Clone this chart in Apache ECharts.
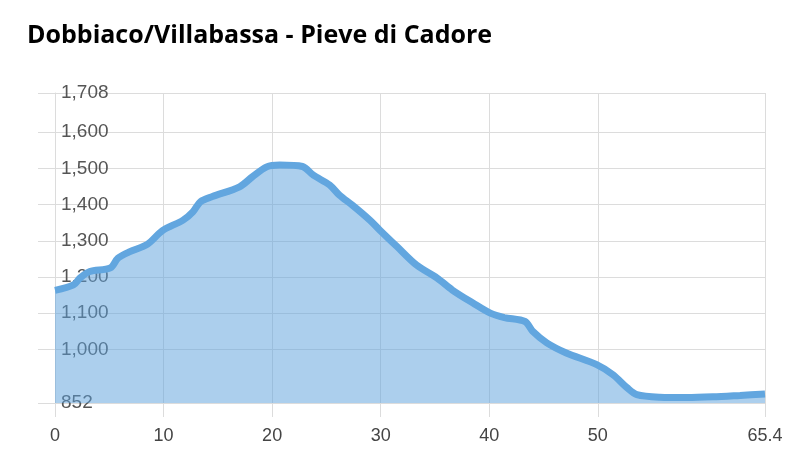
<!DOCTYPE html>
<html>
<head>
<meta charset="utf-8">
<script src="https://cdn.jsdelivr.net/npm/echarts@6/dist/echarts.min.js"></script>
<style>
  html, body { margin: 0; padding: 0; background: #fff; }
  #main { width: 802px; height: 466px; }
</style>
</head>
<body>
<div id="main"></div>
<script>
// profilo altimetrico: km / quota (m)
var km = [0, 1.7, 2.3, 3.2, 5.1, 5.8, 6.9, 8.5, 9.9, 11.8, 12.7, 13.4, 14.5, 17.0, 18.2, 19.5, 20.7, 22.8, 23.8, 25.3, 26.2, 27.4, 29.0, 29.9, 31.5, 33.3, 35.2, 36.6, 38.5, 40.1, 41.4, 43.3, 44.0, 45.3, 47.1, 49.9, 51.4, 52.7, 53.6, 55.7, 58.2, 60.6, 63.1, 65.4];
var quota = [1163, 1178, 1197, 1215, 1225, 1252, 1270, 1290, 1328, 1357, 1380, 1408, 1422, 1449, 1477, 1504, 1509, 1505, 1481, 1454, 1426, 1398, 1357, 1330, 1284, 1233, 1197, 1164, 1128, 1100, 1088, 1077, 1050, 1018, 990, 958, 930, 894, 875, 868, 867, 869, 873, 877];
var xTicks = [0, 10, 20, 30, 40, 50, 65.4];
var yTicks = [852, 1000, 1100, 1200, 1300, 1400, 1500, 1600, 1708];

var gridColor = "#dcdcdc";
var myChart = echarts.init(document.getElementById("main"));
var option = {
  animation: false,
  title: {
    text: "Dobbiaco/Villabassa - Pieve di Cadore",
    left: 22,
    top: 18,
    textStyle: { fontFamily: "Open Sans", fontWeight: "bold", fontSize: 25, color: "#000" }
  },
  grid: { left: 55, right: 37, top: 93, bottom: 63 },
  xAxis: {
    type: "value",
    min: 0,
    max: 65.4,
    axisLine: { show: true, lineStyle: { color: gridColor } },
    axisTick: { show: true, length: 14, lineStyle: { color: gridColor }, customValues: xTicks },
    splitLine: { show: true, lineStyle: { color: gridColor } },
    axisLabel: {
      customValues: xTicks,
      margin: 24,
      fontFamily: "Liberation Sans",
      fontSize: 18,
      color: "#444",
      showMinLabel: true,
      showMaxLabel: true
    }
  },
  yAxis: {
    type: "value",
    min: 852,
    max: 1708,
    axisLine: { show: true, lineStyle: { color: gridColor } },
    axisTick: { show: true, length: 17, lineStyle: { color: gridColor }, customValues: yTicks },
    splitLine: { show: true, lineStyle: { color: gridColor } },
    axisLabel: {
      customValues: yTicks,
      inside: true,
      margin: 6,
      fontFamily: "Liberation Sans",
      fontSize: 19,
      color: "#555",
      formatter: function (v) { return v.toLocaleString("en-US"); }
    }
  },
  series: [{
    type: "line",
    data: km.map(function (k, i) { return [k, quota[i]]; }),
    showSymbol: false,
    smooth: 0.3,
    lineStyle: { color: "#62a6df", width: 7 },
    areaStyle: { color: "#5aa0dc", opacity: 0.5 }
  }]
};
myChart.setOption(option);
</script>
</body>
</html>
